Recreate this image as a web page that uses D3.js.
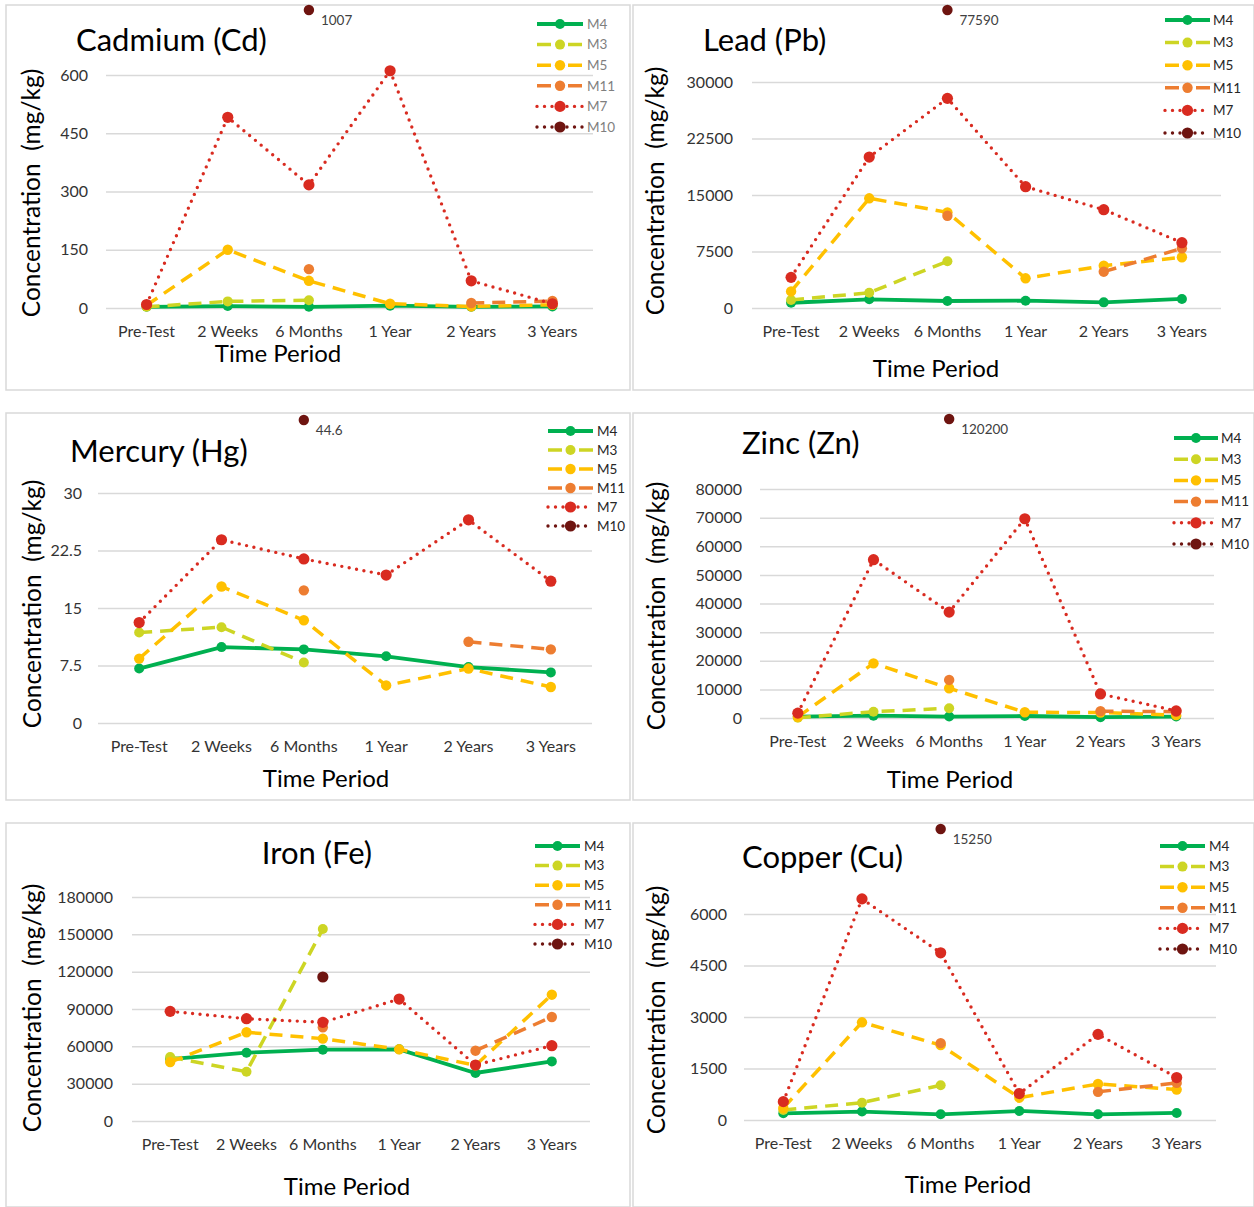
<!DOCTYPE html>
<html>
<head>
<meta charset="utf-8">
<script src="https://cdn.jsdelivr.net/npm/d3@7"></script>
<style>
  body { margin: 0; background: #fff; }
  svg { display: block; }
  text { font-family: Lato, "Open Sans", sans-serif; }
</style>
</head>
<body>
<svg id="chart" width="1254" height="1207"></svg>
<script>
// categories and series
var periods = ["Pre-Test", "2 Weeks", "6 Months", "1 Year", "2 Years", "3 Years"];
var seriesNames = ["M4", "M3", "M5", "M11", "M7", "M10"];

// values per metal, one row per series (same order as seriesNames)
var cdValues = [
    [3, 5, 3, 6, 3, 4],
    [3, 17, 20, null, null, null],
    [7, 150, 70, 11, 4, 8],
    [null, null, 100, null, 13, 18],
    [9, 491, 317, 611, 70, 11],
    [null, null, 1007, null, null, null]
];
var pbValues = [
    [700, 1150, 930, 970, 750, 1200],
    [1060, 2030, 6200, null, null, null],
    [2200, 14560, 12700, 3940, 5620, 6730],
    [null, null, 12250, null, 4820, 7920],
    [4070, 20040, 27830, 16100, 13050, 8670],
    [null, null, 77590, null, null, null]
];
var hgValues = [
    [7.1, 9.9, 9.6, 8.7, 7.3, 6.6],
    [11.8, 12.5, 7.9, null, null, null],
    [8.4, 17.8, 13.4, 4.9, 7.1, 4.7],
    [null, null, 17.3, null, 10.6, 9.6],
    [13.1, 23.9, 21.4, 19.3, 26.5, 18.5],
    [null, null, 44.6, null, null, null]
];
var znValues = [
    [500, 800, 500, 700, 300, 500],
    [100, 2200, 3400, null, null, null],
    [400, 19100, 10400, 2000, 1900, 1000],
    [null, null, 13300, null, 2400, 2200],
    [1700, 55300, 37000, 69600, 8400, 2500],
    [null, null, 120200, null, null, null]
];
var feValues = [
    [49800, 54900, 57300, 57600, 38600, 47900],
    [51400, 39600, 154300, null, null, null],
    [47400, 71300, 66200, 57600, 44700, 101500],
    [null, null, 75300, null, 56500, 83600],
    [88100, 82200, 79300, 98000, 45000, 60500],
    [null, null, 115700, null, null, null]
];
var cuValues = [
    [195, 245, 165, 263, 165, 205],
    [290, 505, 1013, null, null, null],
    [350, 2845, 2180, 650, 1050, 885],
    [null, null, 2240, null, 820, 1080],
    [535, 6440, 4870, 770, 2495, 1237],
    [null, null, 15250, null, null, null]
];

// y tick labels
var cdTicks = [0, 150, 300, 450, 600];
var pbTicks = [0, 7500, 15000, 22500, 30000];
var hgTicks = [0, 7.5, 15, 22.5, 30];
var znTicks = [0, 10000, 20000, 30000, 40000, 50000, 60000, 70000, 80000];
var feTicks = [0, 30000, 60000, 90000, 120000, 150000, 180000];
var cuTicks = [0, 1500, 3000, 4500, 6000];

var titles = ["Cadmium (Cd)", "Lead (Pb)", "Mercury (Hg)", "Zinc (Zn)", "Iron (Fe)", "Copper (Cu)"];

// styles
var colors = ["#00b050", "#cdd524", "#ffc000", "#ed7d31", "#d92b20", "#6e1410"];
var dashes = [null, "13 8", "13 8", "13 8", "0 7.5", "0 7.5"];
var legendDash = [null, "14 17", "14 17", "14 17", "0 7.5", "0 7.5"];
var widths = [3.8, 3.5, 3.5, 3.5, 3.4, 3.4];
var radius = [5, 5, 5.2, 5.2, 5.6, 5.6];

var panels = [
    {values: cdValues, ticks: cdTicks, box: [6, 5, 630, 390], grid: [106, 593], yr: [308, 75], tickX: 88,
     catY: 337, title: [76, 51, "start"], tp: [278, 362], yt: [31, 193], leg: [537, 583, 587, 24, 20.6],
     legText: "#7f7f7f", outY: 10},
    {values: pbValues, ticks: pbTicks, box: [633, 5, 1254, 390], grid: [752, 1221], yr: [308, 82], tickX: 733,
     catY: 337, title: [703, 51, "start"], tp: [936, 377], yt: [655, 191], leg: [1165, 1210, 1213, 20, 22.6],
     legText: "#262626", outY: 10},
    {values: hgValues, ticks: hgTicks, box: [6, 413, 630, 800], grid: [98, 592], yr: [723, 493], tickX: 82,
     catY: 752, title: [70, 462, "start"], tp: [326, 787], yt: [32, 604], leg: [548, 593, 597, 431, 19],
     legText: "#262626", outY: 420},
    {values: znValues, ticks: znTicks, box: [633, 413, 1254, 800], grid: [760, 1214], yr: [718, 489], tickX: 742,
     catY: 747, title: [742, 454, "start"], tp: [950, 788], yt: [656, 606], leg: [1174, 1218, 1221, 438, 21.2],
     legText: "#262626", outY: 419},
    {values: feValues, ticks: feTicks, box: [6, 823, 630, 1207], grid: [132, 590], yr: [1121, 897], tickX: 113,
     catY: 1150, title: [317, 864, "middle"], tp: [347, 1195], yt: [32, 1008], leg: [535, 580, 584, 846, 19.6],
     legText: "#262626", outY: 829},
    {values: cuValues, ticks: cuTicks, box: [633, 823, 1254, 1207], grid: [744, 1216], yr: [1120, 914], tickX: 727,
     catY: 1149, title: [742, 868, "start"], tp: [968, 1193], yt: [656, 1010], leg: [1160, 1205, 1209, 846, 20.6],
     legText: "#262626", outY: 829}
];

var svg = d3.select("#chart");

panels.forEach(function (p, pi) {
    var g = svg.append("g");
    var yMax = p.ticks[p.ticks.length - 1];

    var x = d3.scalePoint().domain(periods).range(p.grid).padding(0.5);
    var y = d3.scaleLinear().domain([0, yMax]).range(p.yr);

    // a value is off the chart when it would land above the panel
    function offChart(v) { return y(v) < p.box[1] + 12; }

    g.append("rect")
        .attr("x", p.box[0]).attr("y", p.box[1])
        .attr("width", p.box[2] - p.box[0]).attr("height", p.box[3] - p.box[1])
        .attr("fill", "none").attr("stroke", "#d9d9d9").attr("stroke-width", 1.5);

    // gridlines and y labels
    var yAxis = d3.axisLeft(y).tickValues(p.ticks).tickFormat(d3.format(""))
        .tickSize(p.grid[0] - p.grid[1]).tickPadding(0);
    var ya = g.append("g").attr("transform", "translate(" + p.grid[0] + ",0)").call(yAxis);
    ya.select(".domain").remove();
    ya.selectAll(".tick line").attr("stroke", "#d9d9d9").attr("stroke-width", 1.5);
    ya.selectAll(".tick text")
        .attr("x", p.tickX - p.grid[0])
        .attr("font-size", 16).attr("fill", "#333")
        .style("font-family", "Lato, sans-serif");

    // category labels
    g.selectAll(".cat").data(periods).enter().append("text")
        .attr("x", function (d) { return x(d); })
        .attr("y", p.catY)
        .attr("text-anchor", "middle")
        .attr("font-size", 16).attr("fill", "#333")
        .text(function (d) { return d; });

    g.append("text")
        .attr("x", p.title[0]).attr("y", p.title[1])
        .attr("text-anchor", p.title[2])
        .attr("font-size", 31).attr("fill", "#000")
        .text(titles[pi]);

    g.append("text")
        .attr("x", p.tp[0]).attr("y", p.tp[1])
        .attr("text-anchor", "middle")
        .attr("font-size", 24).attr("fill", "#000")
        .text("Time Period");

    g.append("text")
        .attr("transform", "translate(" + p.yt[0] + "," + p.yt[1] + ") rotate(-90)")
        .attr("text-anchor", "middle").attr("dy", "0.35em")
        .attr("font-size", 24.5).attr("fill", "#000")
        .style("white-space", "pre")
        .text("Concentration  (mg/kg)");

    var line = d3.line()
        .defined(function (d) { return d.v !== null && !offChart(d.v); })
        .x(function (d) { return x(d.p); })
        .y(function (d) { return y(d.v); });

    p.values.forEach(function (row, si) {
        var pts = row.map(function (v, i) { return {p: periods[i], v: v}; });
        g.append("path")
            .attr("d", line(pts))
            .attr("fill", "none")
            .attr("stroke", colors[si])
            .attr("stroke-width", widths[si])
            .attr("stroke-linecap", dashes[si] === "0 7.5" ? "round" : "butt")
            .attr("stroke-dasharray", dashes[si]);

        pts.forEach(function (d) {
            if (d.v === null) { return; }
            if (!offChart(d.v)) {
                g.append("circle")
                    .attr("cx", x(d.p)).attr("cy", y(d.v))
                    .attr("r", radius[si]).attr("fill", colors[si]);
            } else {
                // off the scale: drawn at the top of the panel with its value
                g.append("circle")
                    .attr("cx", x(d.p)).attr("cy", p.outY)
                    .attr("r", 5.2).attr("fill", colors[si]);
                g.append("text")
                    .attr("x", x(d.p) + 12).attr("y", p.outY + 15)
                    .attr("font-size", 13.5).attr("fill", "#404040")
                    .text(d3.format("")(d.v));
            }
        });
    });

    // legend
    var lg = g.append("g");
    seriesNames.forEach(function (name, si) {
        var ly = p.leg[3] + si * p.leg[4];
        lg.append("line")
            .attr("x1", p.leg[0]).attr("x2", p.leg[1])
            .attr("y1", ly).attr("y2", ly)
            .attr("stroke", colors[si]).attr("stroke-width", widths[si])
            .attr("stroke-linecap", legendDash[si] === "0 7.5" ? "round" : "butt")
            .attr("stroke-dasharray", legendDash[si]);
        lg.append("circle")
            .attr("cx", (p.leg[0] + p.leg[1]) / 2).attr("cy", ly)
            .attr("r", radius[si]).attr("fill", colors[si]);
        lg.append("text")
            .attr("x", p.leg[2]).attr("y", ly).attr("dy", "0.35em")
            .attr("font-size", 13.5).attr("fill", p.legText)
            .text(name);
    });
});
</script>
</body>
</html>
